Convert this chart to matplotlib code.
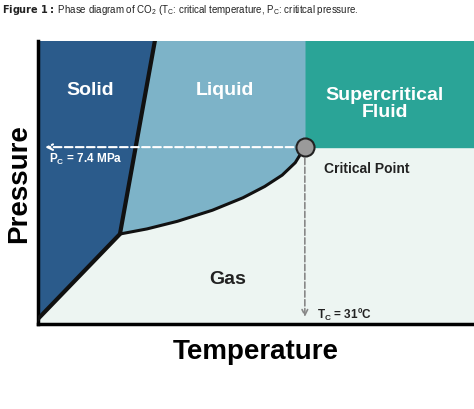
import matplotlib.pyplot as plt
import numpy as np

# key points of the diagram (axis units 0..100)
triple = (18.8, 31.8)
critical = (61.2, 62.5)
solid_top = (26.8, 100)
solid_bottom = (0, 1.8)
# liquid-gas curve points
curve_x = [18.8, 25, 32, 40, 47, 52, 56, 59, 61.2]
curve_y = [31.8, 33.6, 36.3, 40.2, 44.6, 48.6, 52.6, 57.0, 62.5]

region_labels = ['Solid', 'Liquid', 'Supercritical\nFluid', 'Gas']
FONT = 'Liberation Sans'

fig = plt.figure(figsize=(4.74, 4.10), dpi=100)
ax = fig.add_axes([38/474, 1-325/410, 436/474, 283/410])
ax.set_xlim(0, 100)
ax.set_ylim(0, 100)

# gas background
ax.add_patch(plt.Rectangle((0, 0), 100, 100, color='#edf5f2', zorder=0))
# supercritical
ax.fill_between([critical[0], 100], critical[1], 100, color='#2aa497', zorder=1)
# liquid
lx = [solid_top[0], triple[0]] + curve_x + [critical[0], critical[0]]
ly = [solid_top[1], triple[1]] + curve_y + [critical[1], 100]
ax.fill(lx, ly, color='#7db3c8', zorder=1)
# solid
sx = [0, solid_bottom[0], triple[0], solid_top[0]]
sy = [100, solid_bottom[1], triple[1], solid_top[1]]
ax.fill(sx, sy, color='#2b5b8b', zorder=2)

# boundaries
ax.plot([solid_bottom[0], triple[0], solid_top[0]], [solid_bottom[1], triple[1], solid_top[1]],
        color='#111111', lw=3, zorder=3)
ax.plot(curve_x, curve_y, color='#111111', lw=2.2, zorder=3)

# dashed guides
ax.annotate('', xy=(1, critical[1]), xytext=(critical[0] - 2, critical[1]),
            arrowprops=dict(arrowstyle='->', color='white', lw=1.5, ls='--'), zorder=4)
ax.annotate('', xy=(critical[0], 1.5), xytext=(critical[0], critical[1] - 3),
            arrowprops=dict(arrowstyle='->', color='#888888', lw=1.2, ls='--'), zorder=4)
ax.plot(*critical, 'o', ms=13, mfc='#9a9a9a', mec='#222222', mew=1.5, zorder=5)

fw = dict(fontweight='bold', family=FONT, zorder=6)
ax.text(11.9, 83, region_labels[0], color='white', fontsize=14, ha='center', va='center', **fw)
ax.text(42.9, 83, region_labels[1], color='white', fontsize=14, ha='center', va='center', **fw)
ax.text(79.5, 78, region_labels[2], color='white', fontsize=14, ha='center', va='center',
        linespacing=1.0, **fw)
ax.text(43.6, 16, region_labels[3], color='#222222', fontsize=14, ha='center', va='center', **fw)
ax.text(65.6, 55, 'Critical Point', color='#222222', fontsize=10, va='center', **fw)
ax.text(2.5, 58.5, r'P$_\mathregular{C}$ = 7.4 MPa', color='white', fontsize=8.5, va='center', **fw)
ax.text(64, 3.5, r'T$_\mathregular{C}$ = 31ºC', color='#222222', fontsize=8.5, va='center', **fw)

for s in ['top', 'right']:
    ax.spines[s].set_visible(False)
for s in ['left', 'bottom']:
    ax.spines[s].set_linewidth(2.5)
ax.set_xticks([])
ax.set_yticks([])
ax.set_xlabel('Temperature', fontsize=20, labelpad=10, fontweight='bold', family=FONT)
ax.set_ylabel('Pressure', fontsize=20, labelpad=4, fontweight='bold', family=FONT)

fig.text(0.005, 0.975, r'$\mathbf{Figure\ 1:}$ Phase diagram of CO$_\mathregular{2}$ (T$_\mathregular{C}$: critical temperature, '
         r'P$_\mathregular{C}$: crititcal pressure.', fontsize=7, va='center',
         family=FONT, color='#222222')

fig.savefig('out.png', dpi=100)
